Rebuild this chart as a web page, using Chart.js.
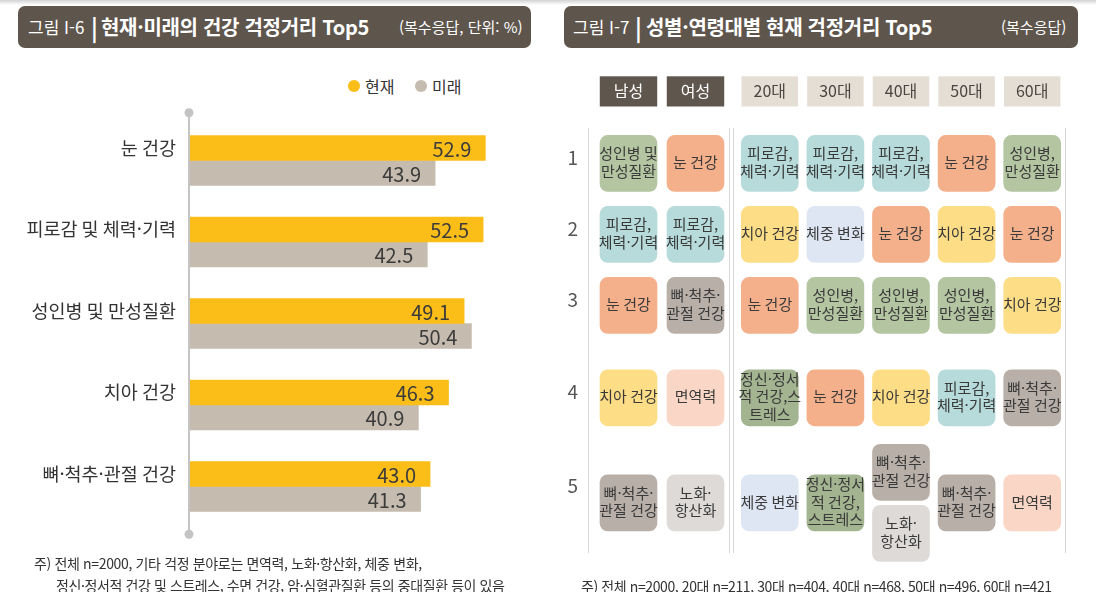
<!DOCTYPE html>
<html lang="ko">
<head>
<meta charset="utf-8">
<script src="https://cdn.jsdelivr.net/npm/chart.js@4"></script>
<style>
html,body{margin:0;padding:0;background:#fff;width:1096px;height:592px;overflow:hidden;
  font-family:"Noto Sans CJK KR","Noto Sans",sans-serif;color:#333;}
.topband{position:absolute;left:0;top:0;width:1096px;height:5px;background:linear-gradient(#d2d2d2,#fff);}
.tbar{position:absolute;top:6px;height:42px;background:#5e554c;border-radius:7px;color:#fff;}
.tbar span{position:absolute;top:0;line-height:42px;white-space:nowrap;}
.fig{font-size:17px;font-weight:400;}
.sep{font-size:23px;font-weight:700;}
.ttl{font-size:20px;font-weight:700;letter-spacing:-0.3px;}
.unit{font-size:15px;font-weight:400;}
canvas{position:absolute;}
.legend{position:absolute;top:74px;height:24px;font-size:16px;line-height:24px;color:#333;}
.legend i{position:absolute;top:6px;width:12px;height:12px;border-radius:50%;}
.legend span{position:absolute;top:0;white-space:nowrap;}
.note{position:absolute;font-size:14px;white-space:nowrap;color:#333;line-height:20px;}
</style>
</head>
<body>
<div class="topband"></div>

<div class="tbar" style="left:18px;width:513px;">
  <span class="fig" style="left:10px;">그림 I-6</span>
  <span class="sep" style="left:73px;">|</span>
  <span class="ttl" style="left:83px;">현재·미래의 건강 걱정거리 Top5</span>
  <span class="unit" style="left:381px;">(복수응답, 단위: %)</span>
</div>
<div class="tbar" style="left:564px;width:514px;">
  <span class="fig" style="left:9px;">그림 I-7</span>
  <span class="sep" style="left:71px;">|</span>
  <span class="ttl" style="left:82px;">성별·연령대별 현재 걱정거리 Top5</span>
  <span class="unit" style="left:437px;">(복수응답)</span>
</div>

<div class="legend" id="legend" style="left:0;width:548px;"></div>

<canvas id="barChart" width="548" height="468" style="left:0;top:90px;"></canvas>
<canvas id="genderChart" width="194" height="516" style="left:548px;top:60px;"></canvas>
<canvas id="ageChart" width="353" height="510" style="left:725px;top:60px;"></canvas>

<div class="note" style="left:34px;top:553px;letter-spacing:-0.35px;">주) 전체 n=2000, 기타 걱정 분야로는 면역력, 노화·항산화, 체중 변화,</div>
<div class="note" style="left:56px;top:575px;letter-spacing:-0.4px;">정신·정서적 건강 및 스트레스, 수면 건강, 암·심혈관질환 등의 중대질환 등이 있음</div>
<div class="note" style="left:581px;top:576px;letter-spacing:-0.4px;">주) 전체 n=2000, 20대 n=211, 30대 n=404, 40대 n=468, 50대 n=496, 60대 n=421</div>

<script>
// ---------- DATA ----------
const categories = ['눈 건강', '피로감 및 체력·기력', '성인병 및 만성질환', '치아 건강', '뼈·척추·관절 건강'];
const seriesNames = ['현재', '미래'];
const currentValues = [52.9, 52.5, 49.1, 46.3, 43.0];
const futureValues = [43.9, 42.5, 50.4, 40.9, 41.3];

const rankLabels = ['1', '2', '3', '4', '5'];
const genderColumns = ['남성', '여성'];
const ageColumns = ['20대', '30대', '40대', '50대', '60대'];
const male   = ['성인병 및\n만성질환', '피로감,\n체력·기력', '눈 건강', '치아 건강', '뼈·척추·\n관절 건강'];
const female = ['눈 건강', '피로감,\n체력·기력', '뼈·척추·\n관절 건강', '면역력', '노화·\n항산화'];
const age20  = ['피로감,\n체력·기력', '치아 건강', '눈 건강', '정신·정서\n적 건강,스\n트레스', '체중 변화'];
const age30  = ['피로감,\n체력·기력', '체중 변화', '성인병,\n만성질환', '눈 건강', '정신·정서\n적 건강,\n스트레스'];
const age40  = ['피로감,\n체력·기력', '눈 건강', '성인병,\n만성질환', '치아 건강', ['뼈·척추·\n관절 건강', '노화·\n항산화']];
const age50  = ['눈 건강', '치아 건강', '성인병,\n만성질환', '피로감,\n체력·기력', '뼈·척추·\n관절 건강'];
const age60  = ['성인병,\n만성질환', '눈 건강', '치아 건강', '뼈·척추·\n관절 건강', '면역력'];

// ---------- STYLE / LAYOUT ----------
const FONT = '"Noto Sans CJK KR", "Noto Sans", sans-serif';
Chart.defaults.font.family = FONT;
const SERIES_COLORS = ['#fbbd17', '#c5bbae'];
const TOPIC_COLORS = {
  '성인병만성질환': '#b4c5a2',
  '피로감체력·기력': '#b6dbda',
  '눈건강': '#f4af8b',
  '치아건강': '#fddd85',
  '뼈·척추·관절건강': '#b8b0a8',
  '면역력': '#f9d6c5',
  '노화·항산화': '#dddad8',
  '체중변화': '#dfe6f3',
  '정신·정서적건강스트레스': '#a3b590'
};
const topicKey = t => t.replace(/[\s,]|및/g, '');
const ROW_SLOT = [1, 2, 3, 4.3, 5.78];      // vertical layout of rank rows
const ROW_LABEL_SLOT = [1, 2, 3, 4.3, 5.62];
const HALF_BOX = 0.395;
const TIE_STEP = 0.86;
const Y_MIN = 0.5, Y_MAX = 6.472;

// ---------- HTML legend from series ----------
(function(){
  const lg = document.getElementById('legend');
  const pos = [[348, 365], [415, 432]];
  seriesNames.forEach((n, i) => {
    const d = document.createElement('i');
    d.style.left = pos[i][0] + 'px'; d.style.background = SERIES_COLORS[i];
    const s = document.createElement('span');
    s.style.left = pos[i][1] + 'px'; s.textContent = n;
    lg.appendChild(d); lg.appendChild(s);
  });
})();

// ---------- LEFT: bar chart ----------
const axisDeco = {
  id: 'axisDeco',
  beforeDatasetsDraw(chart) {
    const {ctx, chartArea: a} = chart;
    const x = a.left - 1;
    ctx.save();
    ctx.strokeStyle = '#c4c4c4'; ctx.fillStyle = '#c4c4c4'; ctx.lineWidth = 2;
    ctx.beginPath(); ctx.moveTo(x, a.top - 7); ctx.lineTo(x, a.bottom + 7); ctx.stroke();
    [a.top - 7, a.bottom + 7].forEach(y => { ctx.beginPath(); ctx.arc(x, y, 4.5, 0, Math.PI * 2); ctx.fill(); });
    ctx.restore();
  }
};
const valueLabels = {
  id: 'valueLabels',
  afterDatasetsDraw(chart) {
    const ctx = chart.ctx;
    ctx.save();
    ctx.font = '20px ' + FONT; ctx.fillStyle = '#3b3b3b';
    ctx.textAlign = 'right'; ctx.textBaseline = 'middle';
    chart.data.datasets.forEach((ds, i) => {
      chart.getDatasetMeta(i).data.forEach((el, j) => {
        ctx.fillText(ds.data[j].toFixed(1), el.x - 14, el.y + 1);
      });
    });
    ctx.restore();
  }
};
new Chart(document.getElementById('barChart'), {
  type: 'bar',
  data: {
    labels: categories,
    datasets: [
      {label: seriesNames[0], data: currentValues, backgroundColor: SERIES_COLORS[0]},
      {label: seriesNames[1], data: futureValues, backgroundColor: SERIES_COLORS[1]}
    ]
  },
  options: {
    indexAxis: 'y', responsive: false, animation: false,
    layout: {autoPadding: false, padding: {top: 29.75, bottom: 30.75, left: 0, right: 23}},
    datasets: {bar: {barThickness: 25, categoryPercentage: 0.736, borderWidth: 0}},
    plugins: {legend: {display: false}, tooltip: {enabled: false}},
    scales: {
      x: {display: false, min: 0, max: 60},
      y: {
        afterFit(s) { s.width = 190; },
        grid: {display: false, drawTicks: false}, border: {display: false},
        ticks: {padding: 14, labelOffset: -13, font: {size: 18.5}, color: '#333'}
      }
    }
  },
  plugins: [axisDeco, valueLabels]
});

// ---------- RIGHT: rank grid ----------
function buildGrid(cols) {
  const datasets = [];
  for (let r = 0; r < rankLabels.length; r++) {
    const maxN = Math.max(...cols.map(c => Array.isArray(c[r]) ? c[r].length : 1));
    for (let k = 0; k < maxN; k++) {
      const data = [], colors = [], texts = [];
      cols.forEach(c => {
        const items = Array.isArray(c[r]) ? c[r] : [c[r]];
        if (k >= items.length) { data.push(null); colors.push('rgba(0,0,0,0)'); texts.push(null); return; }
        const center = ROW_SLOT[r] + (k - (items.length - 1) / 2) * TIE_STEP;
        data.push([center - HALF_BOX, center + HALF_BOX]);
        colors.push(TOPIC_COLORS[topicKey(items[k])]);
        texts.push(items[k]);
      });
      datasets.push({label: 'rank ' + rankLabels[r], data, backgroundColor: colors, cellText: texts});
    }
  }
  return datasets;
}
const cellText = {
  id: 'cellText',
  afterDatasetsDraw(chart) {
    const ctx = chart.ctx;
    ctx.save();
    ctx.font = '15px ' + FONT; ctx.fillStyle = '#3a3a3a';
    ctx.textAlign = 'center'; ctx.textBaseline = 'middle';
    chart.data.datasets.forEach((ds, i) => {
      chart.getDatasetMeta(i).data.forEach((el, j) => {
        const t = ds.cellText[j];
        if (!t) return;
        const lines = t.split('\n');
        const cy = (el.y + el.base) / 2 - 1, lh = 17.5;
        lines.forEach((ln, n) => ctx.fillText(ln, el.x, cy + (n - (lines.length - 1) / 2) * lh));
      });
    });
    ctx.restore();
  }
};
function headerAxis(labels, bg, fg, padX) {
  return {
    type: 'category', position: 'top', labels, offset: true,
    afterFit(s) { s.height = 68; },
    grid: {display: false, drawTicks: false}, border: {display: false},
    ticks: {
      padding: 27, font: {size: 16}, color: fg,
      showLabelBackdrop: true, backdropColor: bg,
      backdropPadding: {top: 5.5, bottom: 5.5, left: padX, right: padX}
    }
  };
}
const LINE = '#d6d6d6';
const gridBar = {bar: {grouped: false, barThickness: 57, borderRadius: 8, borderSkipped: false, borderWidth: 0, clip: false}};

new Chart(document.getElementById('genderChart'), {
  type: 'bar',
  data: {labels: genderColumns, datasets: buildGrid([male, female])},
  options: {
    responsive: false, animation: false,
    layout: {autoPadding: false, padding: {top: 0, bottom: 24, left: 0, right: 8}},
    datasets: gridBar,
    plugins: {legend: {display: false}, tooltip: {enabled: false}},
    scales: {
      x: headerAxis(genderColumns, '#5f564d', '#ffffff', 14),
      y: {
        type: 'linear', position: 'left', weight: 10, reverse: true, min: Y_MIN, max: Y_MAX,
        afterFit(s) { s.width = 40; },
        afterBuildTicks(s) { s.ticks = ROW_LABEL_SLOT.map(v => ({value: v})); },
        grid: {display: false, drawTicks: false},
        border: {display: true, color: LINE, width: 1},
        ticks: {padding: 10, labelOffset: -6, font: {size: 19}, color: '#555',
                callback: (v, i) => rankLabels[i]}
      },
      yPad: {
        type: 'linear', axis: 'y', position: 'left', weight: 0, reverse: true, min: Y_MIN, max: Y_MAX,
        afterFit(s) { s.width = 7; },
        grid: {display: false, drawTicks: false}, border: {display: false}, ticks: {display: false}
      },
      yR: {
        type: 'linear', axis: 'y', position: 'right', weight: 0, min: Y_MIN, max: Y_MAX,
        afterFit(s) { s.width = 4; },
        grid: {display: false, drawTicks: false}, border: {display: true, color: LINE, width: 1}, ticks: {display: false}
      },
      yR2: {
        type: 'linear', axis: 'y', position: 'right', weight: 1, min: Y_MIN, max: Y_MAX,
        afterFit(s) { s.width = 1; },
        grid: {display: false, drawTicks: false}, border: {display: true, color: LINE, width: 1}, ticks: {display: false}
      }
    }
  },
  plugins: [cellText]
});

new Chart(document.getElementById('ageChart'), {
  type: 'bar',
  data: {labels: ageColumns, datasets: buildGrid([age20, age30, age40, age50, age60])},
  options: {
    responsive: false, animation: false,
    layout: {autoPadding: false, padding: {top: 0, bottom: 18, left: 12, right: 12}},
    datasets: gridBar,
    plugins: {legend: {display: false}, tooltip: {enabled: false}},
    scales: {
      x: headerAxis(ageColumns, '#e5ded4', '#4a4440', 12),
      y: {type: 'linear', display: false, reverse: true, min: Y_MIN, max: Y_MAX},
      yR: {
        type: 'linear', axis: 'y', position: 'right', min: Y_MIN, max: Y_MAX,
        afterFit(s) { s.width = 1; },
        grid: {display: false, drawTicks: false}, border: {display: true, color: LINE, width: 1}, ticks: {display: false}
      }
    }
  },
  plugins: [cellText]
});
</script>
</body>
</html>
